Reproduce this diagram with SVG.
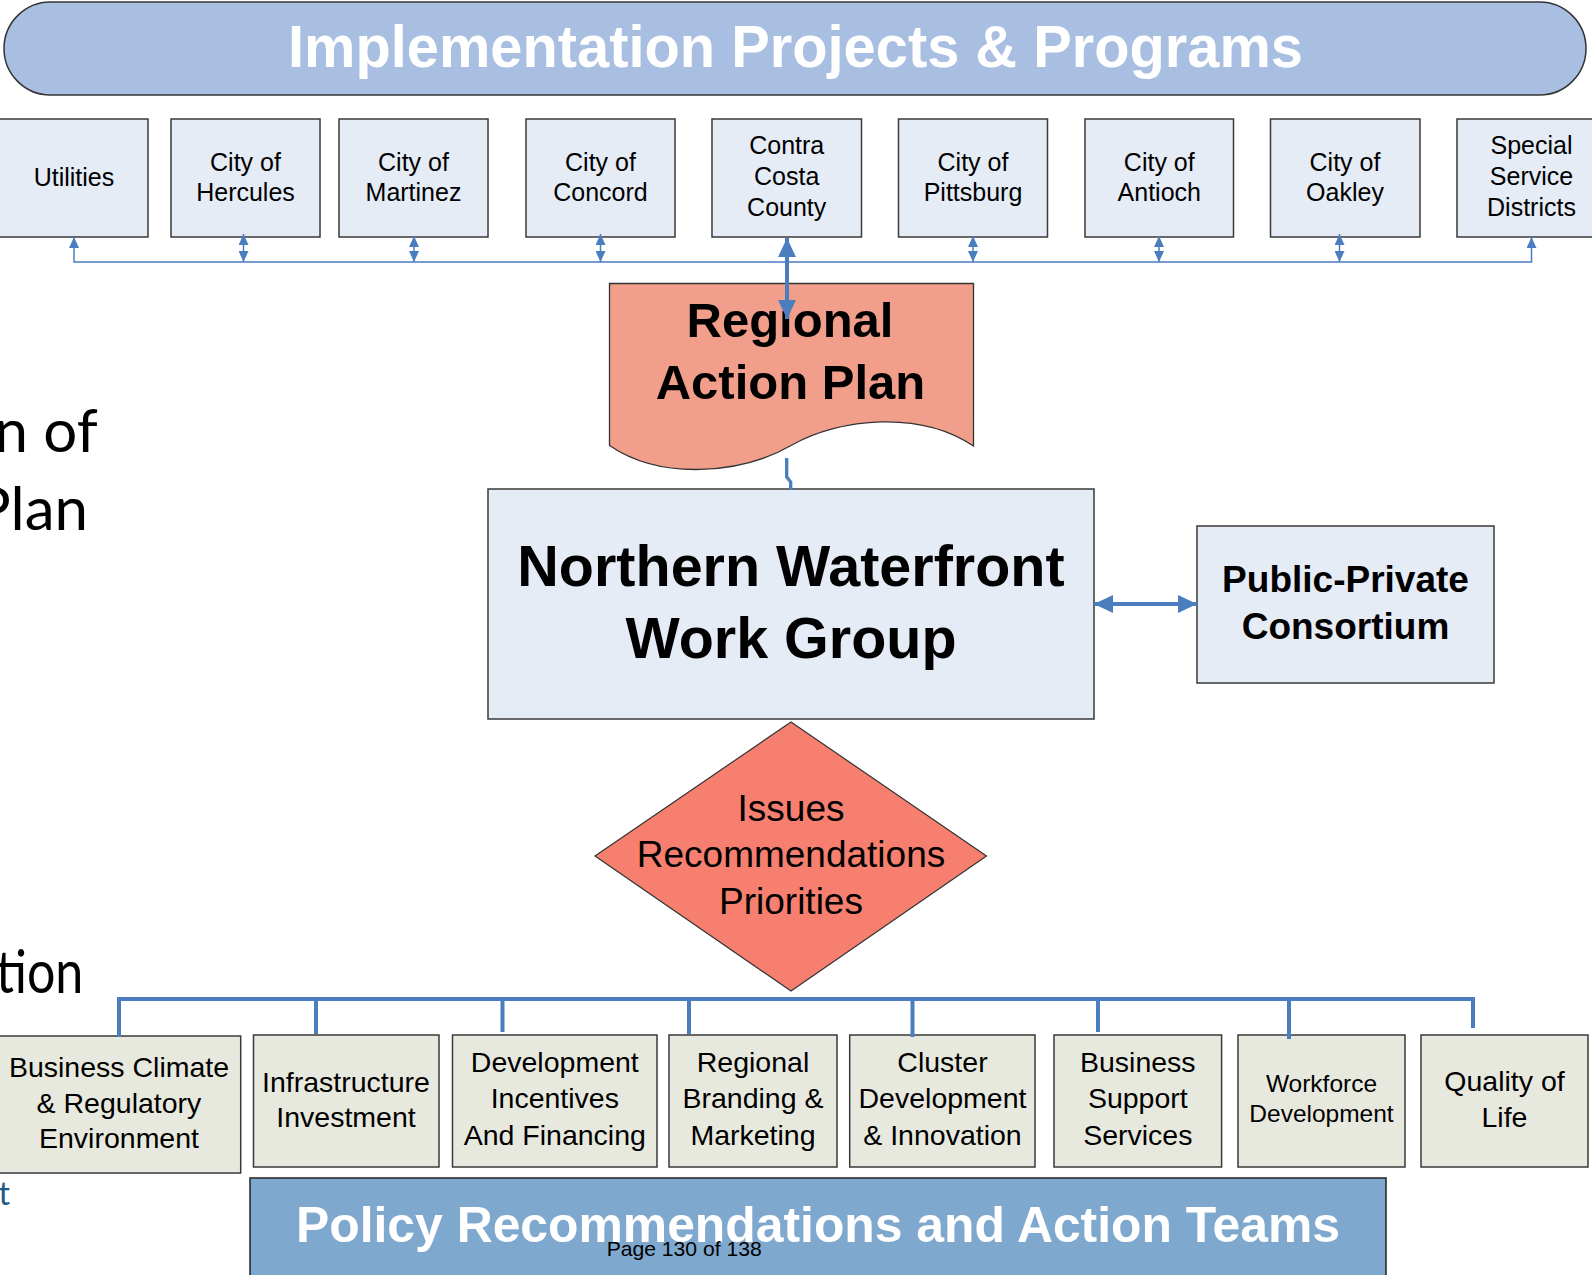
<svg xmlns="http://www.w3.org/2000/svg" width="1592" height="1275" viewBox="0 0 1592 1275">
  <style>
    text { font-family: "Liberation Sans", Arial, sans-serif; fill: #000; text-anchor: middle; }
    .box { fill: #e6ecf6; stroke: #3a3a3a; stroke-width: 1.5; }
    .team { fill: #e8e9de; stroke: #3a3a3a; stroke-width: 1.5; }
    .lbl { font-size: 25px; }
    .tlbl { font-size: 28.5px; }
    .bold { font-weight: bold; }
    .thin { fill: none; stroke: #4a7ebf; stroke-width: 1.5; }
    .thick { fill: none; stroke: #4a7ebf; stroke-width: 4; }
    .frag { font-family: Lato, "Open Sans", sans-serif; font-size: 60px; text-anchor: end; }
  </style>
  <defs>
    <marker id="ah-s" viewBox="0 0 11 10" refX="11" refY="5" markerWidth="11" markerHeight="10" markerUnits="userSpaceOnUse" orient="auto-start-reverse">
      <path d="M0,0 L11,5 L0,10 Z" fill="#4a7ebf"/>
    </marker>
    <marker id="ah-l" viewBox="0 0 19 18" refX="19" refY="9" markerWidth="19" markerHeight="18" markerUnits="userSpaceOnUse" orient="auto-start-reverse">
      <path d="M0,0 L19,9 L0,18 Z" fill="#4a7ebf"/>
    </marker>
  </defs>

  <rect width="1592" height="1275" fill="#fff"/>

  <!-- background slide text, cut at the left edge -->
  <g id="slide-fragments">
    <text class="frag" x="97.7" y="451.7">n of</text>
    <text class="frag" x="88" y="530">Plan</text>
    <text class="frag" x="-4" y="993.3" style="text-anchor:start" textLength="87.3" lengthAdjust="spacingAndGlyphs">tion</text>
    <text class="frag" x="10" y="1205" style="font-size:32px; fill:#1d5a85">t</text>
  </g>

  <!-- header banner -->
  <g id="implementation-banner">
    <rect x="4" y="2" width="1582" height="93" rx="46.5" ry="46.5" fill="#a9bfe1" stroke="#333" stroke-width="1.5"/>
    <text class="bold" x="795.5" y="67" font-size="60" style="fill:#fff" textLength="1015" lengthAdjust="spacingAndGlyphs">Implementation Projects &amp; Programs</text>
  </g>

  <!-- implementing agencies -->
  <g id="node-utilities">
    <rect class="box" x="-2" y="119" width="150" height="118"/>
    <text class="lbl" x="74" y="186">Utilities</text>
  </g>
  <g id="node-hercules">
    <rect class="box" x="171" y="119" width="149" height="118"/>
    <text class="lbl" x="245.5" y="170.5">City of</text>
    <text class="lbl" x="245.5" y="201">Hercules</text>
  </g>
  <g id="node-martinez">
    <rect class="box" x="339" y="119" width="149" height="118"/>
    <text class="lbl" x="413.5" y="170.5">City of</text>
    <text class="lbl" x="413.5" y="201">Martinez</text>
  </g>
  <g id="node-concord">
    <rect class="box" x="526" y="119" width="149" height="118"/>
    <text class="lbl" x="600.5" y="170.5">City of</text>
    <text class="lbl" x="600.5" y="201">Concord</text>
  </g>
  <g id="node-contra-costa">
    <rect class="box" x="712" y="119" width="149.5" height="118"/>
    <text class="lbl" x="786.7" y="154">Contra</text>
    <text class="lbl" x="786.7" y="185">Costa</text>
    <text class="lbl" x="786.7" y="216">County</text>
  </g>
  <g id="node-pittsburg">
    <rect class="box" x="898.5" y="119" width="149" height="118"/>
    <text class="lbl" x="973" y="170.5">City of</text>
    <text class="lbl" x="973" y="201">Pittsburg</text>
  </g>
  <g id="node-antioch">
    <rect class="box" x="1085" y="119" width="148.5" height="118"/>
    <text class="lbl" x="1159.3" y="170.5">City of</text>
    <text class="lbl" x="1159.3" y="201">Antioch</text>
  </g>
  <g id="node-oakley">
    <rect class="box" x="1270.5" y="119" width="149.5" height="118"/>
    <text class="lbl" x="1345" y="170.5">City of</text>
    <text class="lbl" x="1345" y="201">Oakley</text>
  </g>
  <g id="node-special-districts">
    <rect class="box" x="1457" y="119" width="149" height="118"/>
    <text class="lbl" x="1531.5" y="154">Special</text>
    <text class="lbl" x="1531.5" y="185">Service</text>
    <text class="lbl" x="1531.5" y="216">Districts</text>
  </g>

  <!-- regional action plan (document shape) -->
  <g id="node-regional-action-plan">
    <path d="M609.5,283.5 H973.5 V446 C920,410 840,418 792,445 C740,475 660,480 609.5,445.5 Z" fill="#f19e8b" stroke="#333" stroke-width="1.3"/>
    <text class="bold" x="790" y="337" font-size="49">Regional</text>
    <text class="bold" x="790.5" y="399" font-size="49">Action Plan</text>
  </g>

  <!-- work group -->
  <g id="node-work-group">
    <rect class="box" x="488" y="489" width="606" height="230"/>
    <text class="bold" x="791" y="586" font-size="57.5">Northern Waterfront</text>
    <text class="bold" x="791" y="658" font-size="57.5">Work Group</text>
  </g>

  <g id="node-consortium">
    <rect class="box" x="1197" y="526" width="297" height="157"/>
    <text class="bold" x="1345.5" y="592" font-size="37">Public-Private</text>
    <text class="bold" x="1345.5" y="639" font-size="37">Consortium</text>
  </g>

  <!-- decision diamond -->
  <g id="node-issues">
    <polygon points="791,722 986.5,856 791,991 595,856" fill="#f67f6f" stroke="#333" stroke-width="1.2"/>
    <text x="791" y="821" font-size="37">Issues</text>
    <text x="791" y="867" font-size="37">Recommendations</text>
    <text x="791" y="914" font-size="37">Priorities</text>
  </g>

  <!-- action teams -->
  <g id="node-business-climate">
    <rect class="team" x="-2" y="1036" width="242.7" height="137"/>
    <text class="tlbl" x="119" y="1076.7">Business Climate</text>
    <text class="tlbl" x="119" y="1113.3">&amp; Regulatory</text>
    <text class="tlbl" x="119" y="1148.3">Environment</text>
  </g>
  <g id="node-infrastructure">
    <rect class="team" x="253.5" y="1035" width="185.5" height="132"/>
    <text class="tlbl" x="346" y="1091.7">Infrastructure</text>
    <text class="tlbl" x="346" y="1126.7">Investment</text>
  </g>
  <g id="node-development-incentives">
    <rect class="team" x="452.5" y="1035" width="204.5" height="132"/>
    <text class="tlbl" x="554.8" y="1071.7">Development</text>
    <text class="tlbl" x="554.8" y="1108.3">Incentives</text>
    <text class="tlbl" x="554.8" y="1145">And Financing</text>
  </g>
  <g id="node-branding">
    <rect class="team" x="669" y="1035" width="168" height="132"/>
    <text class="tlbl" x="753" y="1071.7">Regional</text>
    <text class="tlbl" x="753" y="1108.3">Branding &amp;</text>
    <text class="tlbl" x="753" y="1145">Marketing</text>
  </g>
  <g id="node-cluster">
    <rect class="team" x="849.7" y="1035" width="185.3" height="132"/>
    <text class="tlbl" x="942.5" y="1071.7">Cluster</text>
    <text class="tlbl" x="942.5" y="1108.3">Development</text>
    <text class="tlbl" x="942.5" y="1145">&amp; Innovation</text>
  </g>
  <g id="node-business-support">
    <rect class="team" x="1054" y="1035" width="167.6" height="132"/>
    <text class="tlbl" x="1137.8" y="1071.7">Business</text>
    <text class="tlbl" x="1137.8" y="1108.3">Support</text>
    <text class="tlbl" x="1137.8" y="1145">Services</text>
  </g>
  <g id="node-workforce">
    <rect class="team" x="1238" y="1035" width="167" height="132"/>
    <text x="1321.5" y="1092.3" font-size="24.5">Workforce</text>
    <text x="1321.5" y="1122.3" font-size="24.5">Development</text>
  </g>
  <g id="node-quality-of-life">
    <rect class="team" x="1421" y="1035" width="167" height="132"/>
    <text class="tlbl" x="1504.5" y="1091">Quality of</text>
    <text class="tlbl" x="1504.5" y="1126.7">Life</text>
  </g>

  <!-- footer banner -->
  <g id="policy-banner">
    <rect x="250" y="1178" width="1136" height="110" fill="#7fa8ce" stroke="#222" stroke-width="1.5"/>
    <text class="bold" x="818" y="1242" font-size="50" style="fill:#fff" textLength="1044" lengthAdjust="spacingAndGlyphs">Policy Recommendations and Action Teams</text>
  </g>

  <text x="606.7" y="1255.7" font-size="21" style="text-anchor:start" textLength="155" lengthAdjust="spacingAndGlyphs">Page 130 of 138</text>

  <!-- connectors -->
  <g id="connectors">
    <!-- agency bus -->
    <path class="thin" d="M74,237 V262 H1531.5 V237" marker-start="url(#ah-s)" marker-end="url(#ah-s)"/>
    <path class="thin" d="M243.5,262 V234" marker-start="url(#ah-s)" marker-end="url(#ah-s)"/>
    <path class="thin" d="M414,262 V236" marker-start="url(#ah-s)" marker-end="url(#ah-s)"/>
    <path class="thin" d="M600.5,262 V234" marker-start="url(#ah-s)" marker-end="url(#ah-s)"/>
    <path class="thin" d="M973,262 V236" marker-start="url(#ah-s)" marker-end="url(#ah-s)"/>
    <path class="thin" d="M1159,262 V236" marker-start="url(#ah-s)" marker-end="url(#ah-s)"/>
    <path class="thin" d="M1339.5,262 V234" marker-start="url(#ah-s)" marker-end="url(#ah-s)"/>
    <!-- county to action plan -->
    <path class="thick" d="M787,319 V238" marker-start="url(#ah-l)" marker-end="url(#ah-l)"/>
    <!-- action plan to work group -->
    <path d="M786.7,458 V477 L790.7,482 V490" fill="none" stroke="#4a7ebf" stroke-width="3.3"/>
    <!-- work group to consortium -->
    <path class="thick" d="M1094,604 H1197" marker-start="url(#ah-l)" marker-end="url(#ah-l)"/>
    <!-- team bus -->
    <path class="thick" d="M119,1037 V999 H1473 V1028" stroke-linejoin="miter"/>
    <path class="thick" d="M316,999 V1034 M502.5,999 V1032 M689,999 V1034 M912.5,999 V1037 M1098,999 V1032 M1289,999 V1039"/>
  </g>
</svg>
